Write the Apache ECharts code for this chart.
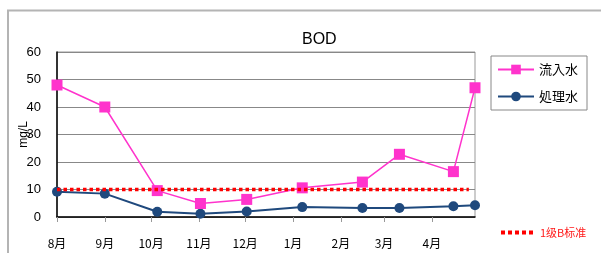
<!DOCTYPE html>
<html>
<head>
<meta charset="utf-8">
<script src="https://cdn.jsdelivr.net/npm/echarts@6/dist/echarts.min.js"></script>
<style>
  html, body { margin: 0; padding: 0; background: #fff; }
  #chart { width: 601px; height: 253px; }
</style>
</head>
<body>
<div id="chart"></div>
<script>
// 採水日
var dates = ['2018-08-01', '2018-09-01', '2018-10-05', '2018-11-02', '2018-12-02',
             '2019-01-07', '2019-02-15', '2019-03-11', '2019-04-15', '2019-04-29']
// 流入水 BOD (mg/L)
var inflow = [48, 40, 9.6, 4.9, 6.4, 10.6, 12.7, 22.8, 16.5, 47]
// 処理水 BOD (mg/L)
var treated = [9.2, 8.5, 1.9, 1.2, 2.0, 3.6, 3.3, 3.3, 3.9, 4.3]
// 1级B标准
var stdDates = ['2018-08-01', '2019-04-25']
var stdValue = [10, 10]

function pairs (xs, ys) {
  return xs.map(function (d, i) { return [d, ys[i]] })
}

var myChart = echarts.init(document.getElementById('chart'))

var option = {
  animation: false,
  textStyle: { fontFamily: 'Liberation Sans, Arial, sans-serif' },
  title: {
    text: 'BOD',
    left: 297,
    top: 27,
    textStyle: { fontSize: 16, fontWeight: 'normal', color: '#000' }
  },
  graphic: [{
    type: 'polyline',
    shape: { points: [[8, 253], [8, 10.5], [601, 10.5]] },
    style: { stroke: '#b4b4b4', lineWidth: 2, fill: null }
  }],
  legend: [{
    data: ['流入水', '処理水'],
    orient: 'vertical',
    left: 491,
    top: 56,
    padding: [7, 9, 7, 6],
    itemGap: 14,
    itemWidth: 36,
    itemHeight: 12,
    borderColor: '#888',
    borderWidth: 1,
    textStyle: { fontSize: 13, color: '#000', fontFamily: 'Noto Sans CJK JP' }
  }, {
    // 基準線の凡例: 点線だけ
    data: ['1级B标准'],
    left: 494,
    top: 222,
    itemWidth: 34,
    itemHeight: 8,
    itemStyle: { opacity: 0 },
    lineStyle: { width: 4, type: [4, 3] },
    textStyle: { fontSize: 11, color: '#ff1a1a', fontFamily: 'Noto Sans CJK SC' }
  }],
  grid: {
    left: 57,
    top: 52,
    width: 418,
    height: 165,
    show: true,
    borderColor: '#999',
    borderWidth: 1
  },
  xAxis: {
    type: 'time',
    min: '2018-08-01',
    max: '2019-04-29',
    splitNumber: 9,
    axisLine: { lineStyle: { color: '#000', width: 1.5 } },
    axisTick: { show: true, length: 5, lineStyle: { color: '#999' } },
    splitLine: { show: false },
    axisLabel: {
      margin: 20,
      fontSize: 12,
      color: '#000',
      fontFamily: 'Noto Sans CJK JP',
      showMinLabel: true,
      formatter: function (val) {
        return (new Date(val).getMonth() + 1) + '月'
      }
    }
  },
  yAxis: {
    type: 'value',
    min: 0,
    max: 60,
    interval: 10,
    name: 'mg/L',
    nameLocation: 'middle',
    nameRotate: 90,
    nameGap: 27,
    nameMoveOverlap: false,
    nameTextStyle: { fontSize: 12, color: '#000' },
    axisLine: { show: true, lineStyle: { color: '#000', width: 1.5 } },
    axisTick: { show: false },
    splitLine: { lineStyle: { color: '#888' } },
    axisLabel: { fontSize: 13, color: '#000', margin: 16 }
  },
  series: [{
    name: '流入水',
    type: 'line',
    data: pairs(dates, inflow),
    symbol: 'rect',
    symbolSize: 11,
    itemStyle: { color: '#ff33cc' },
    lineStyle: { color: '#ff33cc', width: 1.5 },
    z: 4
  }, {
    name: '処理水',
    type: 'line',
    data: pairs(dates, treated),
    symbol: 'circle',
    symbolSize: 10,
    itemStyle: { color: '#1f497d' },
    lineStyle: { color: '#1f497d', width: 2 },
    z: 3
  }, {
    name: '1级B标准',
    type: 'line',
    data: pairs(stdDates, stdValue),
    symbol: 'none',
    itemStyle: { color: '#ff0000' },
    lineStyle: { color: '#ff0000', width: 3.5, type: [3.5, 3] },
    z: 5
  }]
}

myChart.setOption(option)
</script>
</body>
</html>
